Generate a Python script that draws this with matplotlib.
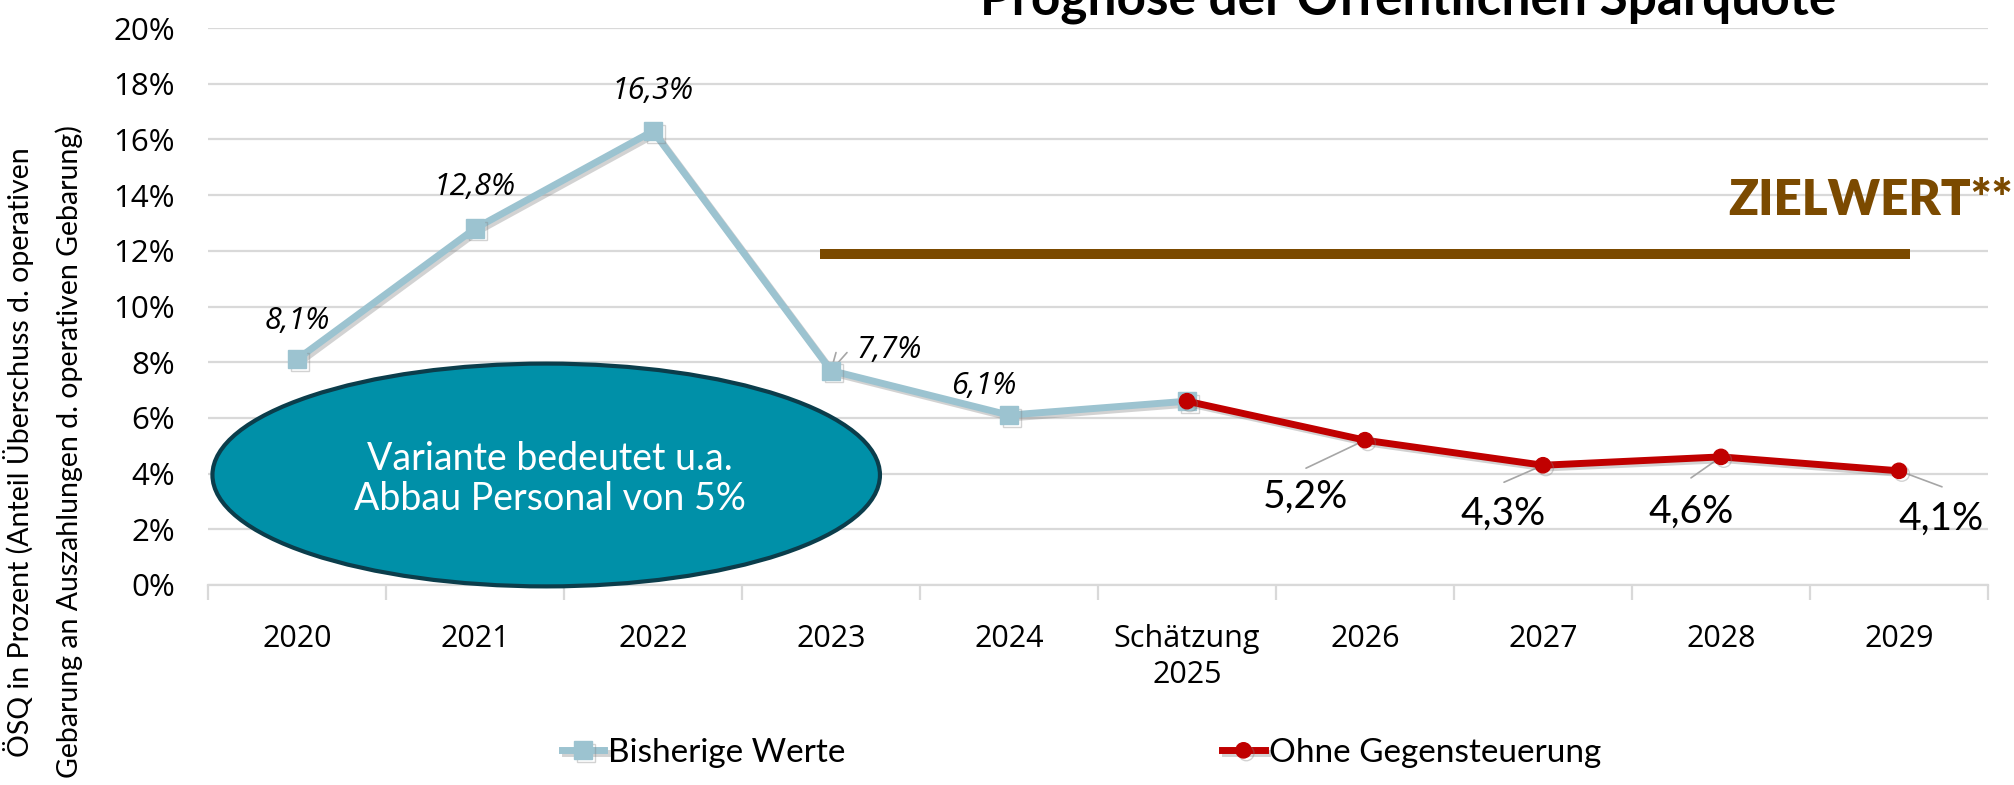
import matplotlib
matplotlib.use("Agg")
import matplotlib.pyplot as plt
from matplotlib.patches import Ellipse
import matplotlib.patheffects as pe
import numpy as np

# ---------------- data ----------------
categories = ["2020", "2021", "2022", "2023", "2024", "Schätzung\n2025",
              "2026", "2027", "2028", "2029"]
bisherige = [8.1, 12.8, 16.3, 7.7, 6.1, 6.6]           # 2020 .. Schätzung 2025
ohne_gegen = [6.6, 5.2, 4.3, 4.6, 4.1]                # Schätzung 2025 .. 2029
bisherige_labels = ["8,1%", "12,8%", "16,3%", "7,7%", "6,1%", None]
ohne_labels = [None, "5,2%", "4,3%", "4,6%", "4,1%"]
zielwert = 11.9
yticks = [0, 2, 4, 6, 8, 10, 12, 14, 16, 18, 20]
ytick_labels = [f"{v}%" for v in yticks]

title = "Prognose der Öffentlichen Sparquote"
ylabel = "ÖSQ in Prozent (Anteil Überschuss d. operativen\nGebarung an Auszahlungen d. operativen Gebarung)"
ellipse_text = "Variante bedeutet u.a.\nAbbau Personal von 5%"

# ---------------- style ----------------
BLUE = "#9CC3D0"
RED = "#C00000"
BROWN = "#7B4A00"
GRID = "#D9D9D9"
TEAL = "#0090A8"
TEAL_EDGE = "#0B3D4B"
TICKFONT = "Open Sans"
CONDFONT = "Lato"

W, H = 2015, 785
fig = plt.figure(figsize=(W / 100, H / 100), dpi=100)
ax = fig.add_axes([208 / W, 1 - 585 / H, (1988 - 208) / W, (585 - 28) / H])

x_all = np.arange(len(categories))
x_b = x_all[:len(bisherige)]
x_o = x_all[len(bisherige) - 1:]

ax.set_xlim(-0.5, len(categories) - 0.5)
ax.set_ylim(0, 20)

# grid
ax.set_yticks(yticks)
ax.set_yticklabels(ytick_labels, fontfamily=TICKFONT, fontsize=22.5)
ax.yaxis.grid(True, color=GRID, lw=1.6, zorder=0)
ax.set_axisbelow(True)
ax.tick_params(axis="y", length=0, pad=24)

ax.set_xticks(x_all)
ax.set_xticklabels(categories, fontfamily=TICKFONT, fontsize=22, linespacing=1.25)
ax.set_xticks(np.arange(-0.5, len(categories), 1.0), minor=True)
ax.tick_params(axis="x", which="major", length=0, pad=28)
ax.tick_params(axis="x", which="minor", length=11, color=GRID, width=1.6)
for s in ["left", "right", "top"]:
    ax.spines[s].set_visible(False)
ax.spines["bottom"].set_color(GRID)
ax.spines["bottom"].set_linewidth(1.6)

# ellipse
ell = Ellipse((1.40, 3.95), 3.75, 8.0, facecolor=TEAL, edgecolor=TEAL_EDGE,
              lw=3, zorder=3, clip_on=False)
ax.add_patch(ell)
ax.text(1.42, 3.81, ellipse_text, ha="center", va="center", color="white",
        fontfamily=CONDFONT, fontsize=27, linespacing=1.15, zorder=4)

# zielwert line
ax.plot([3 - 0.06, 9 + 0.06], [zielwert, zielwert], color=BROWN, lw=7.2,
        solid_capstyle="butt", zorder=3)
fig.text(1728 / W, 1 - 215 / H, "ZIELWERT**", color=BROWN, fontfamily=CONDFONT,
         fontweight="heavy", fontsize=35.5, ha="left", va="baseline")

shadow = [pe.SimpleLineShadow(offset=(2, -2), shadow_color="gray", alpha=0.35),
          pe.Normal()]

lb, = ax.plot(x_b, bisherige, color=BLUE, lw=5, marker="s", markersize=13,
              label="Bisherige Werte", zorder=5, path_effects=shadow)
lo, = ax.plot(x_o, ohne_gegen, color=RED, lw=5, marker="o", markersize=11,
              label="Ohne Gegensteuerung", zorder=6, path_effects=shadow)

# blue labels (offsets in pixels)
b_offsets = [(0, 38), (0, 42), (0, 40), (58, 21), (-25, 29), None]
for xi, v, lab, off in zip(x_b, bisherige, bisherige_labels, b_offsets):
    if lab is None:
        continue
    ax.annotate(lab, (xi, v), xytext=off, textcoords="offset pixels",
                ha="center", va="center", fontfamily=TICKFONT, style="italic",
                fontsize=22, zorder=7)
# leader for 7,7%
i77 = 3
ax.annotate("", (x_b[i77], bisherige[i77]), xytext=(5, 18), textcoords="offset pixels",
            arrowprops=dict(arrowstyle="-", color="#A6A6A6", lw=1.2, shrinkA=0, shrinkB=5))
ax.annotate("", (x_b[i77], bisherige[i77]), xytext=(16, 18), textcoords="offset pixels",
            arrowprops=dict(arrowstyle="-", color="#A6A6A6", lw=1.2, shrinkA=0, shrinkB=0,
                            relpos=(0, 0)), annotation_clip=False)

# red labels
o_offsets = [None, (-60, -57), (-40, -48), (-30, -55), (42, -48)]
o_leader = [None, (-59, -28), (-39, -17), (-30, -21), (43, -16)]
for xi, v, lab, off, ld in zip(x_o, ohne_gegen, ohne_labels, o_offsets, o_leader):
    if lab is None:
        continue
    ax.annotate(lab, (xi, v), xytext=off, textcoords="offset pixels",
                ha="center", va="center", fontfamily=CONDFONT, fontsize=28, zorder=7)
    ax.annotate("", (xi, v), xytext=ld, textcoords="offset pixels",
                arrowprops=dict(arrowstyle="-", color="#A6A6A6", lw=1.2, shrinkA=0, shrinkB=3))

# title (cut off at top, as in the original)
fig.text((977 + 1840) / 2 / W, 1 - 14 / H, title, ha="center", va="baseline",
         fontfamily=CONDFONT, fontweight="bold", fontsize=37)

# y label
fig.text(43 / W, 1 - 452 / H, ylabel, rotation=90, ha="center", va="center",
         fontfamily=CONDFONT, fontsize=20.5, linespacing=1.95)

# legend
fig.legend(handles=[lb, lo], loc="center left", bbox_to_anchor=(562 / W, 1 - 753 / H),
           ncol=2, frameon=False, prop={"family": CONDFONT, "size": 24},
           handlelength=1.27, handletextpad=0.12, columnspacing=11.3,
           borderpad=0, borderaxespad=0)

fig.savefig("out.png", dpi=100)
